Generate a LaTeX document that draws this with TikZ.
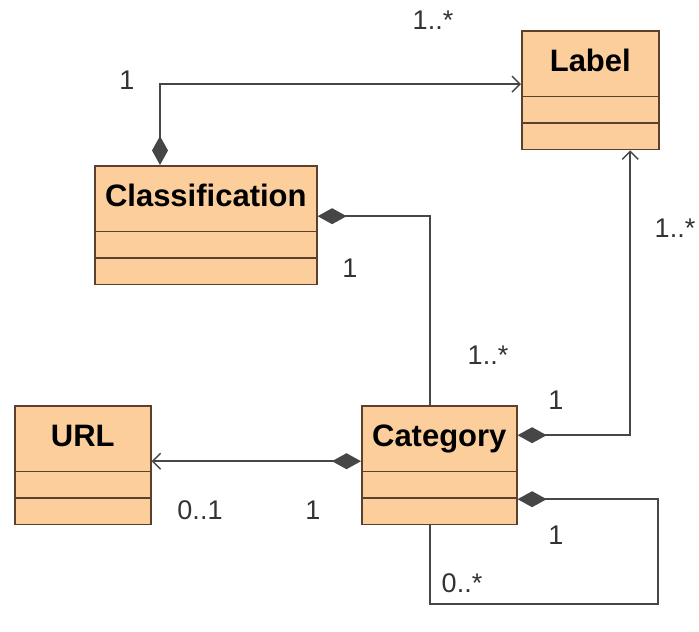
\documentclass[tikz,border=0pt]{standalone}
\usepackage{fontspec}
\setmainfont{Liberation Sans}
\usepackage{xcolor}
\usepackage{tikz}
\usetikzlibrary{shapes.multipart}
\usetikzlibrary{arrows.meta}
\definecolor{classfill}{RGB}{251,206,156}
\definecolor{classline}{RGB}{92,64,46}
\definecolor{linkgray}{RGB}{70,70,70}
\tikzstyle{umlclass} = [rectangle split, rectangle split parts=3, draw=classline, fill=classfill, line width=1.6pt, inner sep=0pt, rectangle split empty part height=25pt, rectangle split empty part depth=0pt, font=\bfseries\fontsize{31}{31}\selectfont, align=center, anchor=north west]
\tikzstyle{mult} = [font=\fontsize{27}{27}\selectfont, text=black!80]
\tikzstyle{compose} = [line width=2pt, draw=linkgray, {Diamond[length=29pt,width=16pt,fill=linkgray]}-]
\tikzstyle{navcompose} = [line width=2pt, draw=linkgray, {Diamond[length=29pt,width=16pt,fill=linkgray]}-{Straight Barb[length=8pt,width=16pt,line width=1.4pt]}]

\begin{document}
\begin{tikzpicture}[x=1pt, y=-1pt]
    \useasboundingbox (0,0) rectangle (699,632);
    \node (lbl) [umlclass, text width=137pt] at (521,30) {\rule[-24pt]{0pt}{64pt}Label};
    \node (cls) [umlclass, text width=222pt] at (94,165) {\rule[-24pt]{0pt}{64pt}Classification};
    \node (url) [umlclass, text width=136pt] at (14,405) {\rule[-24pt]{0pt}{64pt}URL};
    \node (cat) [umlclass, text width=155pt] at (361,405) {\rule[-24pt]{0pt}{64pt}Category};
    \draw [navcompose] ([xshift=66pt]cls.north west) |- ([yshift=6pt]lbl.west);
    \draw [compose] ([yshift=9pt]cls.east) -| ([xshift=-9pt]cat.north);
    \draw [navcompose] ([yshift=30pt]cat.east) -| ([xshift=40pt]lbl.south);
    \draw [navcompose] ([yshift=4pt]cat.west) -- ([yshift=4pt]url.east);
    \draw [compose] ([yshift=-34pt]cat.east) -- ++(140,0) -- ++(0,105) -| ([xshift=-9pt]cat.south);
    % multiplicities
    \node (m1) [mult] at (127,80) {1};
    \node (m2) [mult] at (433,20) {1..*};
    \node (m3) [mult] at (350,268) {1};
    \node (m4) [mult] at (488,355) {1..*};
    \node (m5) [mult] at (556,400) {1};
    \node (m6) [mult] at (675,228) {1..*};
    \node (m7) [mult] at (200,510) {0..1};
    \node (m8) [mult] at (313,510) {1};
    \node (m9) [mult] at (556,535) {1};
    \node (m10) [mult] at (462,583) {0..*};
\end{tikzpicture}
\end{document}
